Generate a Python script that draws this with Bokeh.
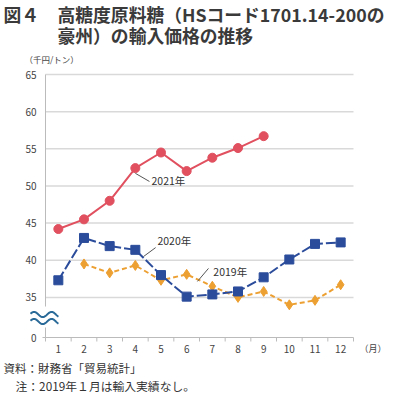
import numpy as np
from bokeh.plotting import figure
from bokeh.models import Label, Range1d
from bokeh.core.properties import value
from bokeh.embed import file_html
from bokeh.resources import INLINE

# ---- data ----
months = list(range(1, 13))
month_labels = [str(m) for m in months]
m2021 = [1, 2, 3, 4, 5, 6, 7, 8, 9]
v2021 = [44.2, 45.5, 48.0, 52.4, 54.5, 52.0, 53.8, 55.1, 56.7]
m2020 = [1, 2, 3, 4, 5, 6, 7, 8, 9, 10, 11, 12]
v2020 = [37.3, 43.0, 41.9, 41.4, 38.0, 35.1, 35.4, 35.8, 37.7, 40.1, 42.2, 42.4]
m2019 = [2, 3, 4, 5, 6, 7, 8, 9, 10, 11, 12]
v2019 = [39.5, 38.3, 39.3, 37.3, 38.1, 36.5, 35.0, 35.8, 34.0, 34.6, 36.7]
y_ticks = [35, 40, 45, 50, 55, 60, 65]
y_tick_labels = ["35", "40", "45", "50", "55", "60", "65"]
y_zero_label = "0"
series_names = ["2021年", "2020年", "2019年"]
# series label anchors (x, y) and leader lines (x0, y0, x1, y1) in data units
label_pos = [(4.63, 50.75), (4.86, 42.67), (7.04, 38.5)]
leaders = [(4.0, 51.7, 4.55, 50.6), (4.32, 40.5, 4.79, 41.7), (6.42, 37.15, 6.85, 38.9)]

FONT = "Noto Sans CJK JP"
RED = "#e0505f"
BLUE = "#2b4c9b"
ORANGE = "#eda032"
GRID = "#d9d9d9"
AXIS = "#bbbbbb"

W, H = 400, 394
# plot area in canvas pixels
FL, FR, FT, FB = 45, 353, 74, 337
x_lo, x_hi = 0.5, 12.5
y_lo, y_hi = 29.6, 65.0
KX = (FR - FL) / (x_hi - x_lo)
KY = (FB - FT) / (y_hi - y_lo)

p = figure(width=W, height=H, min_border=0,
           x_range=Range1d(x_lo - FL / KX, x_hi + (W - FR) / KX),
           y_range=Range1d(y_lo - (H - FB) / KY, y_hi + FT / KY),
           output_backend="svg", toolbar_location=None)
p.axis.visible = False
p.grid.visible = False
p.outline_line_color = None

# grid lines
p.segment(x0=[x_lo] * len(y_ticks), x1=[x_hi] * len(y_ticks), y0=y_ticks, y1=y_ticks,
          line_color=GRID, line_width=1.5)
# x axis line and boundary ticks
p.segment(x0=[x_lo], x1=[x_hi], y0=[y_lo], y1=[y_lo], line_color=AXIS, line_width=1)
bounds = [m - 0.5 for m in months] + [months[-1] + 0.5]
p.segment(x0=bounds, x1=bounds, y0=[y_lo] * len(bounds), y1=[y_lo - 4 / KY] * len(bounds),
          line_color=AXIS, line_width=1)
# y axis line with break
brk_top = y_lo + 31 / KY
brk_bot = y_lo + 10 / KY
p.segment(x0=[x_lo, x_lo], x1=[x_lo, x_lo], y0=[y_hi, brk_bot], y1=[brk_top, y_lo],
          line_color=AXIS, line_width=1)
p.segment(x0=[x_lo - 3 / KX], x1=[x_lo], y0=[y_lo], y1=[y_lo], line_color=AXIS, line_width=1)

# axis-break squiggle
t = np.linspace(0, 1, 60)
wx = x_lo + (-15 + 28 * t) / KX
for off in (23, 16):
    p.line(wx, y_lo + (off + 2.6 * np.sin(2 * np.pi * 1.6 * t + 0.3)) / KY,
           line_color="#2a6a98", line_width=2)

# tick labels
p.text(x=[x_lo] * (len(y_ticks) + 1), y=[y_lo] + y_ticks, text=[y_zero_label] + y_tick_labels,
       x_offset=-9, text_align="right", text_baseline="middle",
       text_font=value(FONT), text_font_size="10px", text_color="#444444")
p.text(x=months, y=[y_lo] * len(months), text=month_labels, y_offset=11,
       text_align="center", text_baseline="middle",
       text_font=value(FONT), text_font_size="10px", text_color="#444444")

# series
p.line(m2019, v2019, line_color=ORANGE, line_width=2, line_dash="5 3")
p.scatter(m2019, v2019, marker="diamond", size=10, fill_color=ORANGE, line_color=ORANGE)
p.line(m2020, v2020, line_color=BLUE, line_width=2, line_dash="10 3")
p.scatter(m2020, v2020, marker="square", size=9, fill_color=BLUE, line_color=BLUE)
p.line(m2021, v2021, line_color=RED, line_width=2)
p.scatter(m2021, v2021, marker="circle", size=9, fill_color=RED, line_color=RED)

# series labels with leader lines
for name, (lx, ly), (x0, y0, x1, y1) in zip(series_names, label_pos, leaders):
    p.segment(x0=[x0], y0=[y0], x1=[x1], y1=[y1], line_color="#555555", line_width=1)
    p.add_layout(Label(x=lx, y=ly, text=name, text_font=FONT, text_font_size="10.5px",
                       text_color="#333333", text_baseline="middle", text_align="left"))

# texts in canvas pixels (from top-left)
def lab(x, y, text, size, bold=False, color="#333333"):
    p.add_layout(Label(x=x, y=H - y, x_units="screen", y_units="screen", text=text,
                       text_font=FONT, text_font_size=size,
                       text_font_style="bold" if bold else "normal",
                       text_color=color, text_baseline="middle", text_align="left"))

lab(3, 13, "図４", "17.8px", True, "#3a3a3a")
lab(57, 13, "高糖度原料糖（HSコード1701.14-200の", "17.8px", True, "#3a3a3a")
lab(57, 34, "豪州）の輸入価格の推移", "17.8px", True, "#3a3a3a")
lab(24, 58, "（千円/トン）", "8.5px", color="#444444")
lab(359, 348, "（月）", "9px", color="#444444")
lab(3, 367, "資料：財務省「貿易統計」", "11.5px")
lab(15, 385, "注：2019年１月は輸入実績なし。", "11.8px")

open("out.html", "w").write(file_html(p, INLINE))
